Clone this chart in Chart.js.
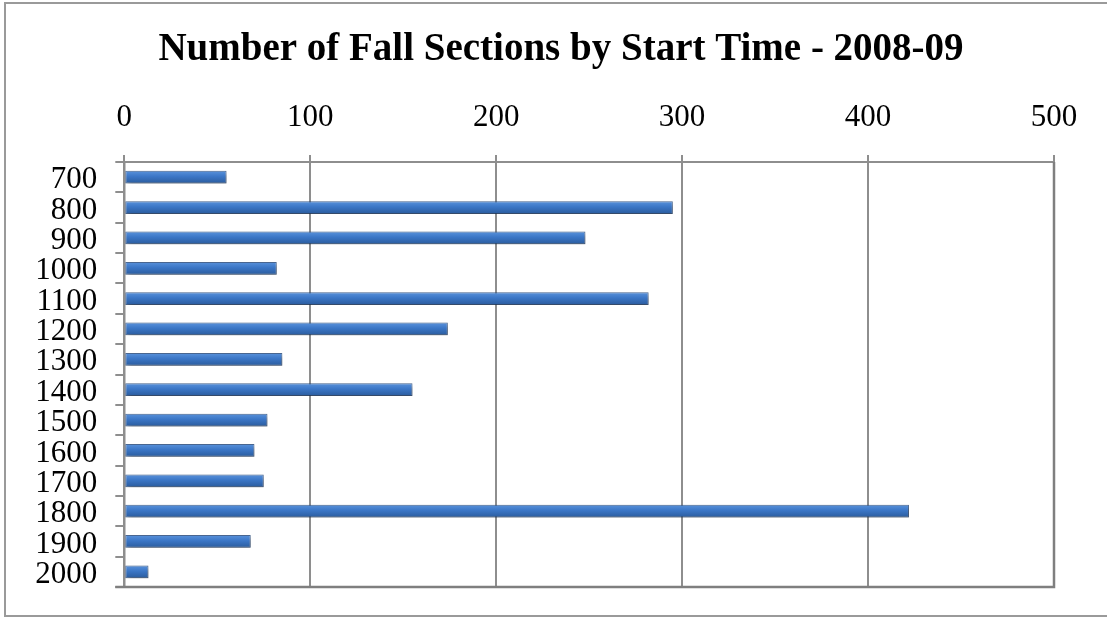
<!DOCTYPE html>
<html>
<head>
<meta charset="utf-8">
<script src="https://cdn.jsdelivr.net/npm/chart.js@4/dist/chart.umd.min.js"></script>
<style>
  html, body { margin: 0; padding: 0; background: #ffffff; }
  #wrap { width: 1107px; height: 617px; }
</style>
</head>
<body>
<div id="wrap"><canvas id="chart" width="1107" height="617"></canvas></div>
<script>
// Section start times (hhmm) and number of fall sections starting at each
const startTimes = ['700', '800', '900', '1000', '1100', '1200', '1300',
                    '1400', '1500', '1600', '1700', '1800', '1900', '2000'];
const sectionCounts = [55, 295, 248, 82, 282, 174, 85, 155, 77, 70, 75, 422, 68, 13];
const axisTicks = [0, 100, 200, 300, 400, 500];
const chartTitle = 'Number of Fall Sections by Start Time - 2008-09';

const SERIF = '"Liberation Serif", "Times New Roman", serif';
const GRID = '#8e8e8e';

// Outer frame, heading, and the darker right/bottom plot border
const framePlugin = {
  id: 'frame',
  beforeDraw(chart) {
    const c = chart.ctx;
    c.save();
    c.fillStyle = '#ffffff';
    c.fillRect(0, 0, chart.width, chart.height);
    c.strokeStyle = '#9a9a9a';
    c.lineWidth = 2;
    c.strokeRect(5, 3, chart.width + 20, chart.height - 4);
    // heading, centred over the whole figure
    c.fillStyle = '#000000';
    c.font = 'bold 39px ' + SERIF;
    c.textAlign = 'center';
    c.textBaseline = 'middle';
    c.fillText(chartTitle, 561, 50);
    c.restore();
  },
  afterDraw(chart) {
    const a = chart.chartArea;
    const c = chart.ctx;
    c.save();
    c.strokeStyle = '#7f7f7f';
    c.lineWidth = 2.5;
    c.beginPath();
    c.moveTo(a.right, a.top);
    c.lineTo(a.right, a.bottom);
    c.lineTo(a.left - 9, a.bottom);
    c.stroke();
    c.restore();
  }
};

// Soft drop shadow under the bars
const shadowPlugin = {
  id: 'barShadow',
  beforeDatasetsDraw(chart) {
    const c = chart.ctx;
    c.save();
    c.shadowColor = 'rgba(0,0,0,0.35)';
    c.shadowBlur = 5;
    c.shadowOffsetX = 2;
    c.shadowOffsetY = 3;
  },
  afterDatasetsDraw(chart) {
    chart.ctx.restore();
  }
};

// Vertical light-to-dark gradient across each bar's thickness
function barFill(context) {
  const chart = context.chart;
  const yScale = chart.scales.y;
  if (!yScale || !chart.chartArea) return '#3a72c0';
  const cy = yScale.getPixelForValue(context.dataIndex);
  const half = 6.5;
  const g = chart.ctx.createLinearGradient(0, cy - half, 0, cy + half);
  g.addColorStop(0, '#5a93dc');
  g.addColorStop(0.45, '#3b76c6');
  g.addColorStop(1, '#2a5b9c');
  return g;
}

new Chart(document.getElementById('chart'), {
  type: 'bar',
  data: {
    labels: startTimes,
    datasets: [{
      data: sectionCounts,
      backgroundColor: barFill,
      borderColor: 'rgba(45,80,130,0.85)',
      borderWidth: 1,
      borderSkipped: false,
      barPercentage: 0.42,
      categoryPercentage: 1.0
    }]
  },
  options: {
    indexAxis: 'y',
    responsive: false,
    animation: false,
    layout: { padding: { left: 0, top: 0, right: 53, bottom: 30 } },
    plugins: {
      legend: { display: false },
      tooltip: { enabled: false },
      title: { display: false }
    },
    scales: {
      x: {
        position: 'top',
        min: 0,
        max: 500,
        afterBuildTicks(scale) {
          scale.ticks = axisTicks.map(v => ({ value: v }));
        },
        afterFit(scale) { scale.height = 162; },
        ticks: {
          color: '#000000',
          font: { family: SERIF, size: 31 },
          padding: 19,
          maxRotation: 0
        },
        grid: {
          color: GRID,
          lineWidth: 2,
          tickLength: 7,
          drawTicks: true
        },
        border: { display: true, color: GRID, width: 2 }
      },
      y: {
        afterFit(scale) { scale.width = 124.3; },
        ticks: {
          color: '#000000',
          font: { family: SERIF, size: 31, lineHeight: 0.4 },
          padding: 18,
          labelOffset: 3,
          autoSkip: false
        },
        grid: {
          offset: true,
          drawOnChartArea: false,
          drawTicks: true,
          tickLength: 9,
          color: GRID,
          lineWidth: 2
        },
        border: { display: true, color: GRID, width: 2.5 }
      }
    }
  },
  plugins: [framePlugin, shadowPlugin]
});
</script>
</body>
</html>
